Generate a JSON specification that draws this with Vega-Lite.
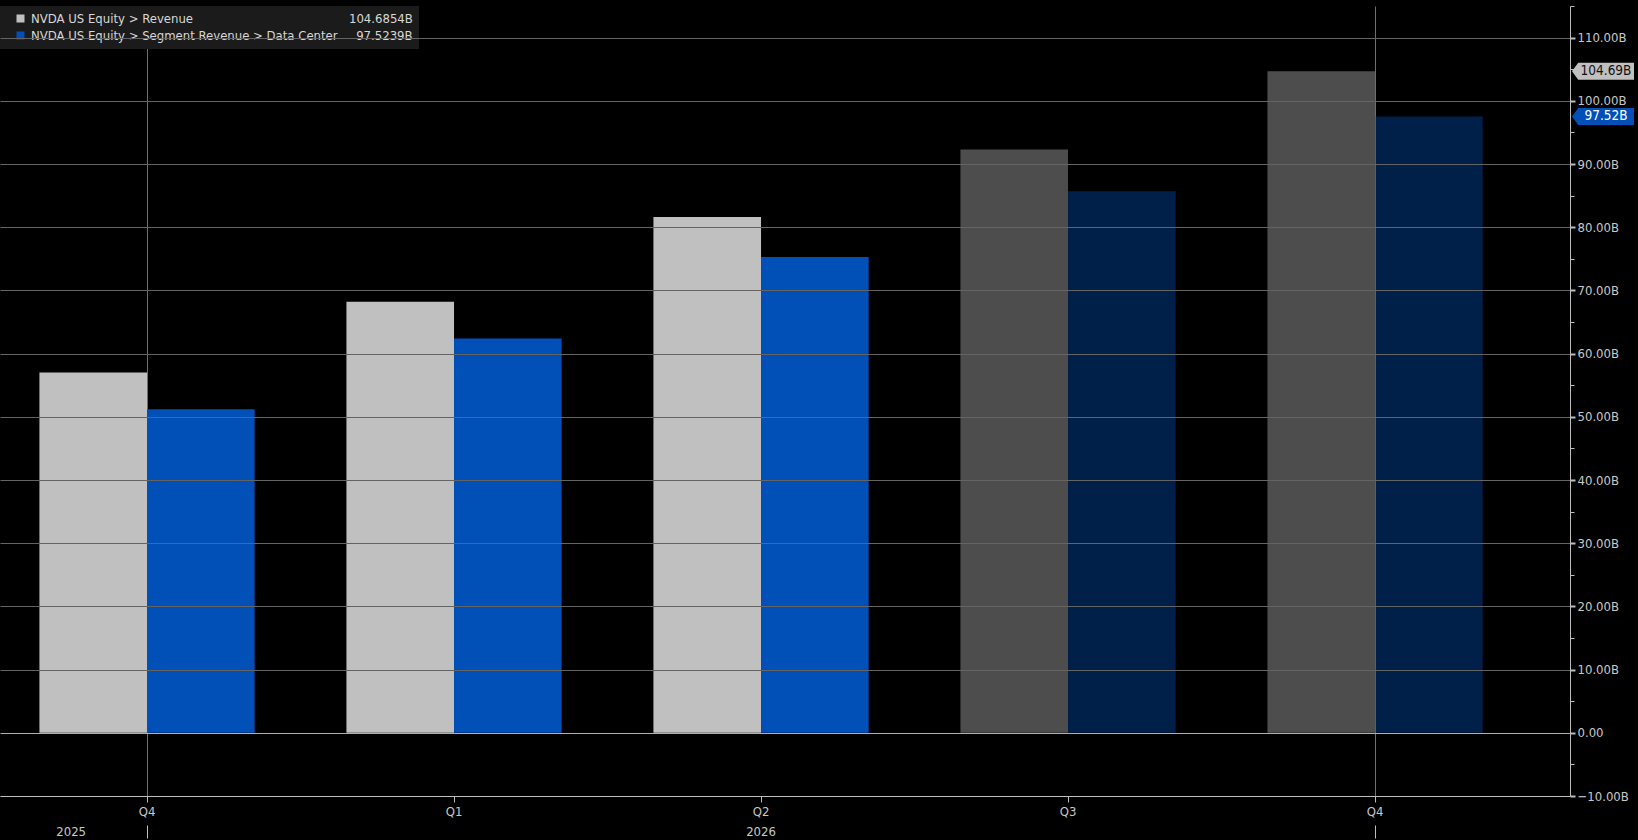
{
  "$schema": "https://vega.github.io/schema/vega-lite/v6.json",
  "width": 1570,
  "height": 790,
  "autosize": "none",
  "padding": {"left": 0, "top": 6, "right": 68, "bottom": 44},
  "background": "#000000",
  "data": {
    "values": [
      {"quarter": "Q4 2025", "series": "Revenue", "value": 57.0, "status": "actual"},
      {"quarter": "Q4 2025", "series": "Data Center", "value": 51.2, "status": "actual"},
      {"quarter": "Q1 2026", "series": "Revenue", "value": 68.2, "status": "actual"},
      {"quarter": "Q1 2026", "series": "Data Center", "value": 62.4, "status": "actual"},
      {"quarter": "Q2 2026", "series": "Revenue", "value": 81.6, "status": "actual"},
      {"quarter": "Q2 2026", "series": "Data Center", "value": 75.3, "status": "actual"},
      {"quarter": "Q3 2026", "series": "Revenue", "value": 92.3, "status": "estimate"},
      {"quarter": "Q3 2026", "series": "Data Center", "value": 85.7, "status": "estimate"},
      {"quarter": "Q4 2026", "series": "Revenue", "value": 104.6854, "status": "estimate"},
      {"quarter": "Q4 2026", "series": "Data Center", "value": 97.5239, "status": "estimate"}
    ]
  },
  "layer": [
    {
      "mark": {"type": "bar"},
      "encoding": {
        "x": {
          "field": "quarter",
          "type": "nominal",
          "sort": null,
          "scale": {
            "domain": ["Q4 2025", "Q1 2026", "Q2 2026", "Q3 2026", "Q4 2026"],
            "paddingInner": 0.299,
            "paddingOuter": 0.2065,
            "align": 0.311,
            "round": false
          },
          "axis": {
            "title": null,
            "zindex": 1,
            "bandPosition": 0.5,
            "labelExpr": "split(datum.value, ' ')[0]",
            "labelAngle": 0,
            "labelColor": "#c8c8c8",
            "labelFontSize": 13,
            "labelPadding": 3,
            "domainColor": "#bdbdbd",
            "tickColor": "#bdbdbd",
            "tickSize": 6,
            "grid": false
          }
        },
        "xOffset": {
          "field": "series",
          "type": "nominal",
          "sort": ["Revenue", "Data Center"],
          "scale": {"paddingInner": 0, "paddingOuter": 0}
        },
        "y": {
          "field": "value",
          "type": "quantitative",
          "scale": {"domain": [-10, 115], "nice": false, "zero": false},
          "axis": {
            "title": null,
            "orient": "right",
            "zindex": 1,
            "values": [-10, 0, 10, 20, 30, 40, 50, 60, 70, 80, 90, 100, 110],
            "labelExpr": "datum.value == 0 ? '0.00' : format(datum.value, '.2f') + 'B'",
            "labelColor": "#c8c8c8",
            "labelFontSize": 13,
            "labelPadding": 2,
            "domainColor": "#bdbdbd",
            "tickColor": "#bdbdbd",
            "tickSize": 5,
            "tickWidth": 2,
            "grid": true,
            "gridColor": {"condition": {"test": "datum.value == 0", "value": "#b0b0b0"}, "value": "#646464"},
            "gridWidth": 1
          }
        },
        "color": {
          "field": "series",
          "type": "nominal",
          "scale": {"domain": ["Revenue", "Data Center"], "range": ["#c0c0c0", "#0050b8"]},
          "legend": {
            "title": null,
            "orient": "top-left",
            "offset": 0,
            "fillColor": "#1b1b1b",
            "padding": 6,
            "symbolType": "square",
            "symbolSize": 64,
            "symbolStrokeWidth": 0,
            "symbolOffset": 8,
            "labelColor": "#d8d8d8",
            "labelFontSize": 13,
            "labelLimit": 600,
            "rowPadding": 3,
            "labelExpr": "datum.label == 'Revenue' ? 'NVDA US Equity > Revenue' + pad('', 42, '\u00a0') + '104.6854B' + pad('', 6, '\u00a0') : 'NVDA US Equity > Segment Revenue > Data Center' + pad('', 5, '\u00a0') + '97.5239B' + pad('', 6, '\u00a0')"
          }
        },
        "opacity": {
          "field": "status",
          "type": "nominal",
          "scale": {"domain": ["actual", "estimate"], "range": [1, 0.4]},
          "legend": null
        }
      }
    },
    {
      "mark": {"type": "bar", "opacity": 0},
      "encoding": {
        "x": {
          "field": "quarter",
          "type": "nominal",
          "sort": null,
          "axis": {
            "title": null,
            "orient": "bottom",
            "offset": 29,
            "zindex": 0,
            "values": ["Q4 2025", "Q4 2026"],
            "bandPosition": 0.5,
            "labelExpr": "datum.value == 'Q4 2025' ? '2025' : ''",
            "labelAngle": 0,
            "labelAlign": "right",
            "labelOffset": -61,
            "labelPadding": -13,
            "labelColor": "#c8c8c8",
            "labelFontSize": 13,
            "domain": false,
            "grid": true,
            "gridColor": "#6e6e6e",
            "gridWidth": 1,
            "tickColor": "#bdbdbd",
            "tickSize": 13
          }
        },
        "y": {
          "field": "value",
          "type": "quantitative",
          "axis": {
            "title": null,
            "orient": "right",
            "values": [-5, 5, 15, 25, 35, 45, 55, 65, 75, 85, 95, 105, 115],
            "labels": false,
            "domain": false,
            "grid": false,
            "tickColor": "#bdbdbd",
            "tickSize": 4
          }
        }
      }
    },
    {
      "mark": {"type": "bar", "opacity": 0},
      "encoding": {
        "x": {
          "field": "quarter",
          "type": "nominal",
          "sort": null,
          "axis": {
            "title": null,
            "orient": "bottom",
            "offset": 29,
            "values": ["Q2 2026"],
            "bandPosition": 0.5,
            "labelExpr": "'2026'",
            "labelAngle": 0,
            "labelPadding": 0,
            "labelColor": "#c8c8c8",
            "labelFontSize": 13,
            "domain": false,
            "grid": false,
            "ticks": false,
            "tickSize": 0
          }
        },
        "y": {"field": "value", "type": "quantitative", "axis": null}
      }
    },
    {
      "transform": [{"filter": "datum.quarter == 'Q4 2026'"}],
      "mark": {
        "type": "point",
        "filled": true,
        "opacity": 1,
        "size": 3844,
        "x": {"expr": "width + 33"},
        "shape": "M -1 0 L -0.8 -0.274 L 1 -0.274 L 1 0.274 L -0.8 0.274 Z"
      },
      "encoding": {
        "y": {"field": "value", "type": "quantitative", "axis": null},
        "color": {"field": "series", "type": "nominal", "legend": null}
      }
    },
    {
      "transform": [{"filter": "datum.quarter == 'Q4 2026'"}],
      "mark": {
        "type": "text",
        "x": {"expr": "width + 36"},
        "align": "center",
        "baseline": "middle",
        "fontSize": 13.5,
        "text": {"expr": "format(datum.value, '.2f') + 'B'"}
      },
      "encoding": {
        "y": {"field": "value", "type": "quantitative", "axis": null},
        "color": {"condition": {"test": "datum.series == 'Revenue'", "value": "#111111"}, "value": "#ffffff"}
      }
    }
  ],
  "resolve": {"axis": {"x": "independent", "y": "independent"}},
  "config": {
    "font": "Liberation Sans Narrow, DejaVu Sans Condensed, Roboto Condensed, Arial Narrow, sans-serif",
    "view": {"stroke": null}
  }
}
